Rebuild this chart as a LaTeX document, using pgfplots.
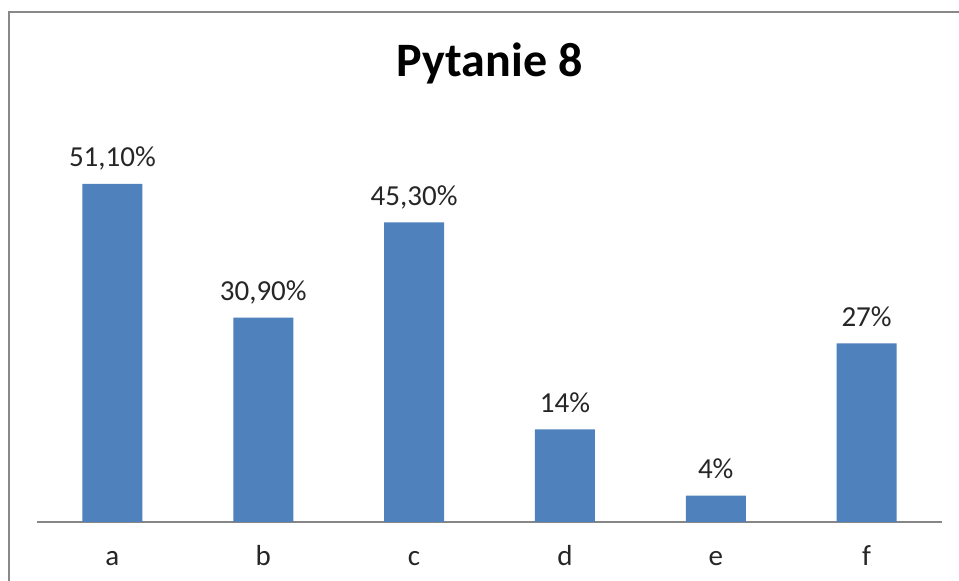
\documentclass[border=0pt]{standalone}
\usepackage{fontspec}
\setmainfont{Carlito}
\usepackage{pgfplots}
\usepackage{pgfplotstable}
\pgfplotsset{compat=1.18}
\definecolor{barblue}{HTML}{4F81BD}
\definecolor{bordergray}{HTML}{888888}
\definecolor{axgray}{HTML}{868686}
\definecolor{txt}{HTML}{262626}
\pgfplotstableread{
x y lab
0 51.1 {51,10\%}
1 30.9 {30,90\%}
2 45.3 {45,30\%}
3 14 {14\%}
4 4 {4\%}
5 27 {27\%}
}\datatab
\begin{document}
\begin{tikzpicture}[x=1pt,y=1pt]
\useasboundingbox (-37,-59) rectangle (922,522);
\fill[white] (-37,-59) rectangle (922,522);
\draw[bordergray, line width=2pt] (-28,-80) -- (-28,510) -- (940,510);
\begin{axis}[
  at={(0,0)}, anchor=south west,
  scale only axis,
  width=905pt, height=397pt,
  xmin=-0.5, xmax=5.5, ymin=0, ymax=60,
  axis y line=none,
  axis x line=bottom,
  x axis line style={draw=axgray, line width=1.2pt, -},
  major tick length=0pt,
  xtick=data,
  xticklabels={a,b,c,d,e,f},
  xticklabel style={anchor=base, yshift=-43pt, font=\fontsize{29}{34}\selectfont, text=txt},
  ytick=\empty,
  clip=false,
  nodes near coords,
  point meta=explicit symbolic,
  nodes near coords style={anchor=base, yshift=17pt, font=\fontsize{29}{34}\selectfont, text=txt},
]
\addplot[ybar, bar width=60pt, fill=barblue, draw=none] table[x=x, y=y, meta=lab] {\datatab};
\end{axis}
\node[anchor=base, font=\fontsize{48}{56}\selectfont\bfseries] at (452.5,445) {Pytanie 8};
\end{tikzpicture}
\end{document}
